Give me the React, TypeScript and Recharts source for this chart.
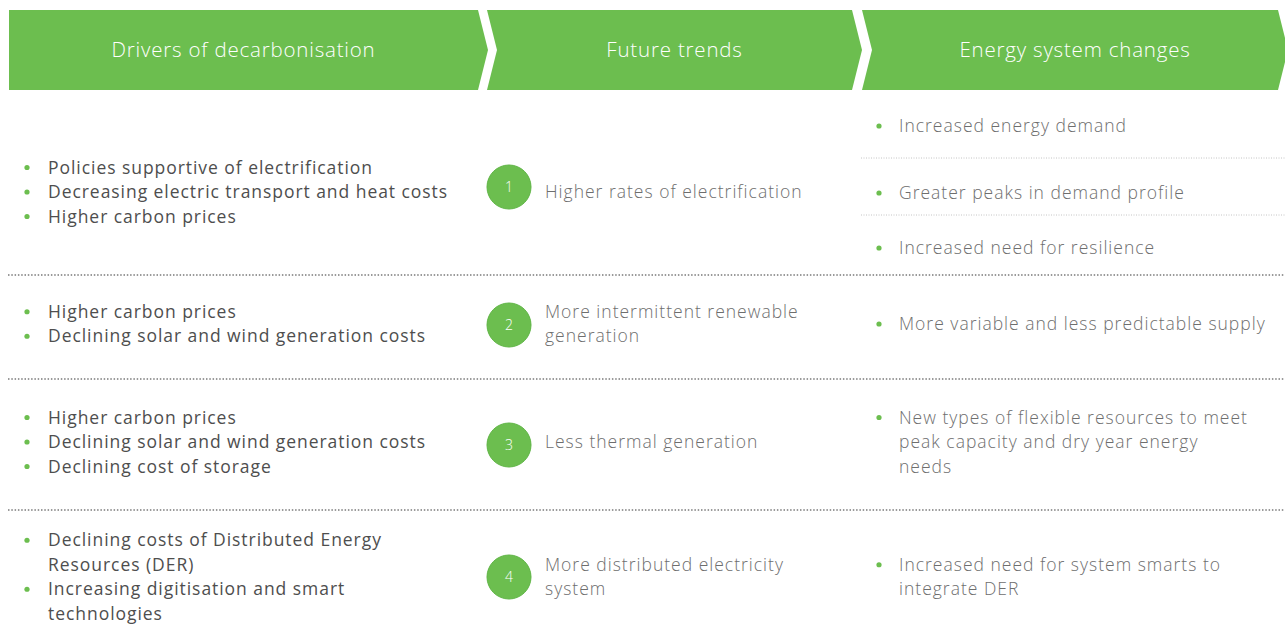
import React from "react";
import { ComposedChart, Scatter, XAxis, YAxis } from "recharts";

// ---------- data ----------
const HEADERS = ["Drivers of decarbonisation", "Future trends", "Energy system changes"];
const TREND_NUMBERS = [1, 2, 3, 4];
const TRENDS: string[][] = [
  ["Higher rates of electrification"],
  ["More intermittent renewable", "generation"],
  ["Less thermal generation"],
  ["More distributed electricity", "system"],
];
const DRIVERS: string[][][] = [
  [["Policies supportive of electrification"], ["Decreasing electric transport and heat costs"], ["Higher carbon prices"]],
  [["Higher carbon prices"], ["Declining solar and wind generation costs"]],
  [["Higher carbon prices"], ["Declining solar and wind generation costs"], ["Declining cost of storage"]],
  [["Declining costs of Distributed Energy", "Resources (DER)"], ["Increasing digitisation and smart", "technologies"]],
];
const CHANGES: string[][][] = [
  [["Increased energy demand"], ["Greater peaks in demand profile"], ["Increased need for resilience"]],
  [["More variable and less predictable supply"]],
  [["New types of flexible resources to meet", "peak capacity and dry year energy", "needs"]],
  [["Increased need for system smarts to", "integrate DER"]],
];

// ---------- layout ----------
const W = 1285;
const H = 624;
const GREEN = "#6cbe4f";
const LH = 24.5;
const CAP = 6;
const HEADER_TOP = 10;
const HEADER_BOTTOM = 90;
const HEADER_BOXES = [
  { left: 9, right: 478, notch: 0 },
  { left: 487, right: 852, notch: 10 },
  { left: 862, right: 1278, notch: 10 },
];
const HEADER_TIP = 10;
const ROW_CENTERS = [192, 324, 442, 577];
const CIRCLE_CENTERS = [187, 325, 445, 577];
const CHANGE_SUB_CENTERS: Record<number, number[]> = { 0: [126, 193, 248] };
const SEPARATORS_Y = [275, 379, 510];
const SUB_SEPARATORS_Y = [158, 215];
const COL = {
  driverBullet: 27,
  driverText: 48,
  circle: 509,
  trendText: 545,
  changeBullet: 879,
  changeText: 899,
  subSepLeft: 861,
};
const FONT = "'Open Sans', 'Noto Sans', sans-serif";

type Pt = { x: number; y: number; text?: string; kind: string; idx?: number };

// header points
const headerPts: Pt[] = HEADERS.map((h, i) => ({
  x: (HEADER_BOXES[i].left + HEADER_BOXES[i].right + HEADER_BOXES[i].notch) / 2,
  y: (HEADER_TOP + HEADER_BOTTOM) / 2,
  text: h,
  kind: "header",
  idx: i,
}));

// circle points
const circlePts: Pt[] = TREND_NUMBERS.map((n, i) => ({
  x: COL.circle,
  y: CIRCLE_CENTERS[i],
  text: String(n),
  kind: "circle",
}));

const textPts: Pt[] = [];
const bulletPts: Pt[] = [];

function stack(groups: string[][], center: number, textX: number, bulletX: number | null, kind: string) {
  const n = groups.reduce((s, g) => s + g.length, 0);
  let k = 0;
  groups.forEach((g) => {
    g.forEach((line, j) => {
      const c = center + (k - (n - 1) / 2) * LH;
      textPts.push({ x: textX, y: c, text: line, kind });
      if (j === 0 && bulletX !== null) bulletPts.push({ x: bulletX, y: c, kind: "bullet" });
      k++;
    });
  });
}

DRIVERS.forEach((groups, r) => stack(groups, ROW_CENTERS[r], COL.driverText, COL.driverBullet, "driver"));
TRENDS.forEach((lines, r) => stack([lines], ROW_CENTERS[r], COL.trendText, null, "trend"));
CHANGES.forEach((groups, r) => {
  const subs = CHANGE_SUB_CENTERS[r];
  if (subs) {
    groups.forEach((g, gi) => stack([g], subs[gi], COL.changeText, COL.changeBullet, "change"));
  } else {
    stack(groups, ROW_CENTERS[r], COL.changeText, COL.changeBullet, "change");
  }
});

const sepPts: Pt[] = SEPARATORS_Y.map((y) => ({ x: 8, y, kind: "sep" }));
const subSepPts: Pt[] = SUB_SEPARATORS_Y.map((y) => ({ x: COL.subSepLeft, y, kind: "subsep" }));

// ---------- shapes ----------
const HeaderShape = (props: any) => {
  const { cy, payload } = props;
  const b = HEADER_BOXES[payload.idx];
  const t = HEADER_TOP;
  const bt = HEADER_BOTTOM;
  const pts = [
    [b.left, t],
    [b.right, t],
    [b.right + HEADER_TIP, cy],
    [b.right, bt],
    [b.left, bt],
    [b.left + b.notch, cy],
  ]
    .map((p) => p.join(","))
    .join(" ");
  return (
    <g>
      <polygon points={pts} fill={GREEN} />
      <text
        x={props.cx}
        y={cy + 7}
        textAnchor="middle"
        fill="#ffffff"
        fontFamily={FONT}
        fontWeight={300}
        fontSize={20.5}
        letterSpacing={0.8}
      >
        {payload.text}
      </text>
    </g>
  );
};

const CircleShape = (props: any) => {
  const { cx, cy, payload } = props;
  return (
    <g>
      <circle cx={cx} cy={cy} r={22} fill={GREEN} stroke="#5fb545" strokeWidth={1} />
      <text x={cx} y={cy + 5} textAnchor="middle" fill="#ffffff" fontFamily={FONT} fontWeight={300} fontSize={14}>
        {payload.text}
      </text>
    </g>
  );
};

const TextShape = (props: any) => {
  const { cx, cy, payload } = props;
  const isDriver = payload.kind === "driver";
  return (
    <text
      x={cx}
      y={cy + CAP}
      fill={isDriver ? "#4e4e4e" : "#6e6e6e"}
      fontFamily={FONT}
      fontWeight={isDriver ? 400 : 300}
      fontSize={17.5}
      letterSpacing={isDriver ? 0.95 : 1.0}
    >
      {payload.text}
    </text>
  );
};

const BulletShape = (props: any) => <circle cx={props.cx} cy={props.cy} r={2.6} fill={GREEN} />;

const SepShape = (props: any) => (
  <line x1={props.cx} x2={W} y1={props.cy} y2={props.cy} stroke="#7a7a7a" strokeWidth={1.3} strokeDasharray="1.5 1.8" />
);
const SubSepShape = (props: any) => (
  <line x1={props.cx} x2={W} y1={props.cy} y2={props.cy} stroke="#c4c4c4" strokeWidth={1} strokeDasharray="1 1.5" />
);

export default function App() {
  return (
    <div style={{ position: "absolute", left: 0, top: 0, width: W, height: H, background: "#fff" }}>
      <ComposedChart width={W} height={H} margin={{ top: 0, right: 0, bottom: 0, left: 0 }}>
        <XAxis type="number" dataKey="x" domain={[0, W]} hide allowDataOverflow />
        <YAxis type="number" dataKey="y" domain={[0, H]} reversed hide allowDataOverflow />
        <Scatter data={sepPts} shape={SepShape} isAnimationActive={false} />
        <Scatter data={subSepPts} shape={SubSepShape} isAnimationActive={false} />
        <Scatter data={headerPts} shape={HeaderShape} isAnimationActive={false} />
        <Scatter data={circlePts} shape={CircleShape} isAnimationActive={false} />
        <Scatter data={bulletPts} shape={BulletShape} isAnimationActive={false} />
        <Scatter data={textPts} shape={TextShape} isAnimationActive={false} />
      </ComposedChart>
    </div>
  );
}
